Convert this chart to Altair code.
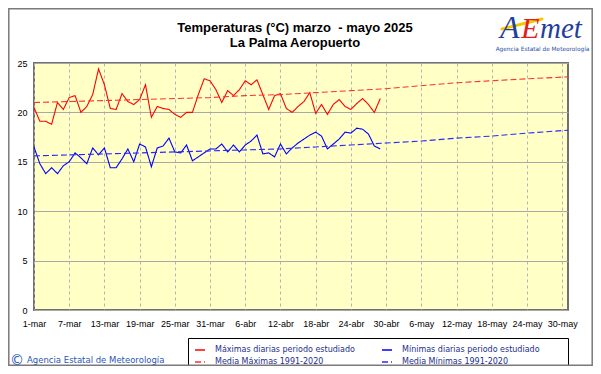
import altair as alt
import pandas as pd

# ---- data ----
days = list(range(60))  # 1-mar ... 29-abr
tmax = [20.5, 19.1, 19.1, 18.8, 21.0, 20.3, 21.5, 21.7, 20.0, 20.6,
        21.8, 24.4, 22.8, 20.4, 20.3, 21.9, 21.1, 20.8, 21.3, 22.8,
        19.5, 20.6, 20.4, 20.3, 19.8, 19.5, 20.0, 20.0, 21.8, 23.4,
        23.2, 22.3, 21.0, 22.2, 21.7, 22.3, 23.2, 22.8, 23.3, 21.8,
        20.3, 21.7, 21.9, 20.4, 20.0, 20.6, 21.1, 22.0, 19.9, 20.8,
        19.8, 20.8, 21.3, 20.6, 20.3, 20.9, 21.4, 20.8, 20.0, 21.4]
tmin = [16.5, 14.8, 13.8, 14.4, 13.8, 14.6, 15.0, 15.9, 15.4, 14.8,
        16.4, 15.7, 16.4, 14.4, 14.4, 15.3, 16.3, 15.0, 16.8, 16.5,
        14.5, 16.4, 16.6, 17.4, 16.0, 15.9, 16.7, 15.1, 15.5, 15.9,
        16.3, 16.3, 16.8, 16.0, 16.7, 16.0, 16.7, 17.1, 17.7, 15.8,
        15.9, 15.5, 16.8, 15.8, 16.4, 16.9, 17.3, 17.7, 18.0, 17.6,
        16.3, 16.8, 17.3, 18.0, 17.9, 18.4, 18.3, 17.8, 16.6, 16.3]
mean_days = [0, 6, 12, 18, 24, 30, 36, 42, 48, 54, 60, 66, 72, 78, 84, 91]
mean_max = [21.0, 21.1, 21.2, 21.3, 21.4, 21.5, 21.7, 21.8, 22.0, 22.2,
            22.4, 22.7, 23.0, 23.2, 23.4, 23.6]
mean_min = [15.6, 15.7, 15.8, 15.9, 16.0, 16.1, 16.2, 16.3, 16.5, 16.7,
            16.9, 17.1, 17.4, 17.6, 17.9, 18.2]

tick_days = [0, 6, 12, 18, 24, 30, 36, 42, 48, 54, 60, 66, 72, 78, 84, 90]
tick_labels = ['1-mar', '7-mar', '13-mar', '19-mar', '25-mar', '31-mar',
               '6-abr', '12-abr', '18-abr', '24-abr', '30-abr',
               '6-may', '12-may', '18-may', '24-may', '30-may']
y_ticks = [0, 5, 10, 15, 20, 25]

# legend is laid out column by column: col 1 = máximas, col 2 = mínimas
series = ['Máximas diarias periodo estudiado', 'Media Máximas 1991-2020',
          'Mínimas diarias periodo estudiado', 'Media Mínimas 1991-2020']
colors = ['#ff0000', '#ff3030', '#0000ff', '#2a2aff']
dashes = [[1, 0], [6, 3], [1, 0], [6, 3]]

rows = []
for d, v in zip(days, tmax):
    rows.append({'d': d, 'v': v, 'serie': series[0]})
for d, v in zip(days, tmin):
    rows.append({'d': d, 'v': v, 'serie': series[2]})
for d, v in zip(mean_days, mean_max):
    rows.append({'d': d, 'v': v, 'serie': series[1]})
for d, v in zip(mean_days, mean_min):
    rows.append({'d': d, 'v': v, 'serie': series[3]})
df = pd.DataFrame(rows)

label_expr = "[" + ",".join("'%s'" % l for l in tick_labels) + "][round(datum.value/6)]"

leg = dict(orient='none', legendX=160, legendY=281, columns=2, columnPadding=24,
           rowPadding=2, title=None, labelFont='DejaVu Sans', labelFontSize=8,
           labelColor='#1c2f8c', symbolType='stroke', symbolSize=100,
           symbolStrokeWidth=1.3, labelOffset=9, padding=0)

lines = alt.Chart(df).mark_line(strokeWidth=1.1).encode(
    x=alt.X('d:Q', scale=alt.Scale(domain=[0, 91], nice=False, zero=False),
            axis=alt.Axis(values=tick_days, labelExpr=label_expr, grid=True,
                          gridDash=[3, 3], gridColor='#b4b4b4', ticks=False,
                          domain=False, labelFont='Liberation Sans', labelFontSize=9,
                          labelPadding=9, title=None, labelColor='black',
                          labelAngle=0, labelOverlap=False, labelFlush=False)),
    y=alt.Y('v:Q', scale=alt.Scale(domain=[0, 25], nice=False),
            axis=alt.Axis(values=y_ticks, grid=True, gridColor='#a8a8a8', ticks=False,
                          domain=False, labelPadding=7, title=None,
                          labelFont='Liberation Sans', labelFontSize=9,
                          labelColor='black')),
    color=alt.Color('serie:N', scale=alt.Scale(domain=series, range=colors),
                    legend=alt.Legend(**leg)),
    strokeDash=alt.StrokeDash('serie:N', scale=alt.Scale(domain=series, range=dashes),
                              legend=alt.Legend(**leg)),
    order='d:Q',
)

dummy = pd.DataFrame({'a': [0]})

def txt(s, x, y, size, color='black', weight='normal', align='center', font='Liberation Sans',
        style='normal'):
    return alt.Chart(dummy).mark_text(text=s, fontSize=size, color=color, fontWeight=weight,
                                      align=align, baseline='alphabetic', font=font,
                                      fontStyle=style).encode(
        x=alt.value(x), y=alt.value(y))

title1 = txt('Temperaturas (°C) marzo\u00a0 - mayo 2025', 261, -31, 13, weight='bold')
title2 = txt('La Palma Aeropuerto', 261, -16, 13, weight='bold')

logo_sw = alt.Chart(dummy).mark_rule(color='#f5c800', strokeWidth=3, strokeCap='round').encode(
    x=alt.value(468), x2=alt.value(508), y=alt.value(-34), y2=alt.value(-44))
logo_a = txt('A', 466, -25, 32, color='#1f3f9f', font='Liberation Serif', align='left', style='italic')
logo_e = txt('E', 487, -25, 30, color='#e02020', font='Liberation Serif', align='left', style='italic')
logo_m = txt('met', 506, -25, 29, color='#1f3f9f', font='Liberation Serif', align='left', style='italic')
logo_t = txt('Agencia Estatal de Meteorología', 508.5, -12.5, 5.8, color='#2a4fa8', font='DejaVu Sans')

copy_c = txt('©', -17, 301.5, 14, color='#2a56b8', font='DejaVu Sans')
copy_t = txt('Agencia Estatal de Meteorología', -7, 300, 8.5, color='#2a56b8', align='left',
             font='DejaVu Sans')

legend_box = alt.Chart(dummy).mark_rect(fill=None, stroke='black', strokeWidth=1).encode(
    x=alt.value(154.5), x2=alt.value(534.5), y=alt.value(275.5), y2=alt.value(304.5))

frame = alt.Chart(dummy).mark_rect(fill=None, stroke='#7a7a7a', strokeWidth=1.5).encode(
    x=alt.value(-25.2), x2=alt.value(558.2), y=alt.value(-54.2), y2=alt.value(302.2))

chart = alt.layer(
    lines, legend_box, frame, title1, title2, logo_sw, logo_a, logo_e, logo_m, logo_t,
    copy_c, copy_t
).properties(
    width=534, height=247,
    autosize=alt.AutoSizeParams(type='none'),
    padding={'left': 26, 'top': 55, 'right': 25, 'bottom': 56},
    background='white',
).configure_view(
    fill='#FFFFC6', stroke='#707070', strokeWidth=2
)

chart.save('out.html', embed_options={'renderer': 'svg', 'actions': False})
